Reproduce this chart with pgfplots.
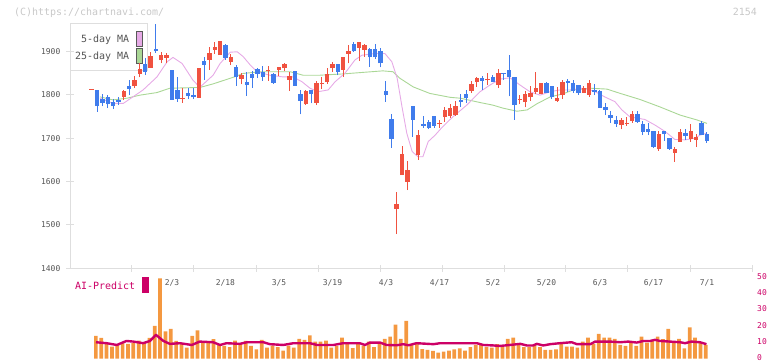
\documentclass[border=0pt]{standalone}
\usepackage{fontspec}
\setmainfont{DejaVu Sans Mono}
\usepackage{pgfplots}
\usepackage{pgfplotstable}
\pgfplotsset{compat=1.18}
\definecolor{cup}{RGB}{240,82,64}
\definecolor{cdn}{RGB}{64,124,236}
\definecolor{ma5}{RGB}{230,170,230}
\definecolor{ma25}{RGB}{170,215,150}
\definecolor{vol}{RGB}{244,152,64}
\definecolor{aip}{RGB}{204,0,102}
\definecolor{axg}{RGB}{222,222,222}
\definecolor{tkg}{RGB}{85,85,85}
\definecolor{wm}{RGB}{200,200,200}

% up (red) candles: index open high low close
\pgfplotstableread{
i o h l c
0 1812 1813 1812 1813
6 1795 1812 1788 1809
8 1820 1843 1815 1834
9 1848 1874 1840 1860
11 1862 1898 1862 1889
13 1880 1899 1872 1891
14 1885 1897 1872 1891
17 1791 1815 1782 1792
20 1793 1861 1793 1861
22 1881 1911 1858 1897
23 1904 1922 1895 1911
24 1891 1924 1891 1924
26 1876 1895 1868 1886
28 1836 1849 1824 1845
33 1854 1866 1832 1855
35 1857 1865 1843 1863
36 1861 1874 1855 1871
37 1834 1853 1809 1843
40 1778 1811 1776 1808
42 1781 1832 1776 1826
43 1825 1841 1813 1826
44 1830 1861 1825 1848
45 1861 1876 1853 1871
47 1857 1886 1842 1886
48 1894 1914 1872 1900
50 1908 1921 1878 1921
51 1904 1917 1887 1914
57 1537 1576 1479 1548
58 1615 1682 1615 1663
59 1600 1647 1580 1627
61 1661 1719 1650 1707
65 1732 1742 1723 1733
66 1749 1772 1738 1765
67 1751 1778 1747 1769
68 1753 1786 1751 1774
71 1809 1832 1805 1825
72 1830 1840 1818 1838
74 1833 1849 1822 1834
76 1822 1859 1815 1851
80 1789 1799 1778 1790
81 1784 1809 1771 1801
82 1794 1820 1786 1805
83 1806 1853 1801 1816
84 1801 1827 1801 1827
87 1785 1817 1784 1793
88 1799 1834 1790 1830
92 1805 1821 1805 1815
93 1799 1834 1795 1826
99 1730 1746 1720 1742
100 1733 1748 1728 1734
101 1739 1763 1736 1755
106 1674 1717 1671 1709
109 1666 1679 1646 1674
110 1692 1721 1692 1715
112 1697 1732 1692 1717
113 1696 1709 1679 1703
}\upc

% down (blue) candles
\pgfplotstableread{
i o h l c
1 1811 1812 1761 1774
2 1791 1801 1773 1782
3 1795 1799 1769 1778
4 1784 1790 1767 1774
5 1787 1795 1776 1784
7 1820 1834 1799 1813
10 1871 1884 1845 1853
12 1906 1963 1897 1900
15 1857 1857 1789 1789
16 1811 1842 1784 1790
18 1803 1815 1790 1798
19 1799 1816 1790 1794
21 1878 1888 1834 1868
25 1914 1917 1881 1885
27 1864 1868 1821 1840
29 1829 1853 1798 1823
30 1848 1855 1816 1839
31 1859 1862 1838 1848
32 1853 1866 1832 1841
34 1848 1849 1825 1828
38 1855 1855 1821 1821
39 1802 1811 1755 1786
41 1811 1812 1780 1802
46 1871 1871 1845 1853
49 1917 1921 1898 1900
52 1906 1907 1864 1886
53 1906 1917 1882 1886
54 1901 1907 1863 1872
55 1809 1832 1784 1799
56 1744 1756 1678 1698
60 1774 1774 1703 1742
62 1733 1751 1723 1728
63 1738 1742 1721 1723
64 1751 1751 1723 1728
69 1789 1802 1772 1784
70 1801 1811 1782 1793
73 1839 1843 1811 1832
75 1840 1845 1830 1830
77 1850 1851 1834 1848
78 1857 1891 1796 1841
79 1840 1840 1742 1776
85 1826 1830 1804 1804
86 1820 1820 1790 1795
89 1832 1836 1807 1827
90 1826 1834 1805 1809
91 1822 1822 1800 1803
94 1812 1824 1799 1807
95 1808 1811 1770 1770
96 1772 1781 1753 1765
97 1753 1763 1736 1747
98 1742 1751 1726 1732
102 1755 1763 1736 1738
103 1732 1739 1707 1715
104 1721 1734 1707 1715
105 1716 1716 1677 1679
107 1717 1717 1694 1709
108 1700 1700 1673 1675
111 1712 1721 1696 1705
114 1735 1739 1707 1707
115 1709 1715 1689 1694
}\dnc

% 25-day moving average
\pgfplotstableread{
i v
1.55 1795
4.0 1788
6.6 1792
9.0 1799
12.2 1805
14.6 1815
17.8 1816
20.3 1817
22.7 1825
26.4 1840
28.3 1849
31.5 1853
37.1 1853
39.5 1845
42.7 1845
47.0 1848
50.2 1851
54.4 1855
56.3 1853
57.6 1838
60.1 1818
63.2 1803
67.0 1794
68.9 1792
72.6 1782
75.0 1776
76.9 1769
79.5 1762
81.4 1765
83.2 1779
85.7 1795
88.1 1802
90.0 1811
93.2 1815
96.3 1813
98.8 1803
102.5 1789
106.2 1772
110.0 1753
113.1 1742
115.0 1734
}\maA

% 5-day moving average
\pgfplotstableread{
i v
1.55 1792
4.0 1780
5.9 1780
7.7 1795
9.6 1811
12.2 1841
14.1 1876
15.2 1886
16.9 1872
18.9 1834
20.2 1817
22.7 1845
24.0 1872
25.9 1898
27.2 1899
28.3 1888
29.6 1869
30.9 1853
33.3 1845
35.8 1841
37.6 1841
39.3 1830
40.8 1815
42.3 1807
44.2 1811
45.5 1830
47.3 1849
49.2 1880
50.5 1891
52.9 1895
54.8 1895
56.1 1876
57.1 1838
58.0 1772
58.9 1711
59.9 1669
61.0 1657
61.9 1657
62.9 1692
64.2 1707
65.5 1725
67.5 1749
70.1 1776
72.6 1807
74.4 1822
76.3 1836
78.2 1839
80.1 1822
81.9 1807
83.8 1799
85.7 1807
87.5 1811
89.4 1811
91.8 1815
93.1 1811
94.1 1807
95.9 1795
97.8 1784
99.1 1765
100.6 1749
103.4 1743
105.3 1730
107.2 1715
109.0 1697
110.9 1696
112.8 1700
113.7 1707
114.9 1711
}\maB

% bottom panel bars
\pgfplotstableread{
i v
1 14
2 12.8
3 9.5
4 7.4
5 8.4
6 9.5
7 9.1
8 9.5
9 11.1
10 9.5
11 12.8
12 20.3
13 49.7
14 16.8
15 18.4
16 10.9
17 9.5
18 6.8
19 14
20 17.4
21 10.5
22 9.5
23 12
24 8.4
25 7.8
26 7
27 11.1
28 9.5
29 10.9
30 7.8
31 5.7
32 11.6
33 6.8
34 8
35 7
36 4.9
37 8
38 6.8
39 12.2
40 11.6
41 14.3
42 10.5
43 10.5
44 11.1
45 6.8
46 7.8
47 13
48 9.5
49 6.4
50 10.1
51 8
52 10.5
53 7
54 9.9
55 12.2
56 13.6
57 21
58 12.2
59 23.4
60 8.9
61 8.9
62 5.9
63 5.3
64 4.7
65 3.6
66 4.3
67 4.9
68 5.7
69 6.3
70 4.9
71 7.0
72 8.4
73 8.4
74 7.0
75 6.8
76 8.9
77 7.0
78 12.2
79 13.0
80 8.4
81 7.0
82 7.0
83 8.4
84 7.0
85 5.3
86 5.3
87 5.7
88 9.1
89 7.4
90 7.4
91 6.8
92 10.5
93 13.0
94 9.1
95 15.3
96 13.0
97 13.0
98 12.2
99 8.4
100 7.8
101 10.5
102 7.8
103 13.6
104 9.9
105 11.1
106 13.6
107 12.0
108 18.4
109 9.9
110 12.2
111 6.3
112 19.3
113 13.0
114 9.5
115 8.4
}\volt

% AI-Predict line
\pgfplotstableread{
i v
0.8 10.1
2.8 9.5
4.7 8.4
6.5 10.9
7.8 10.5
9.6 9.5
10.9 10.9
12.0 14.7
13.4 10.9
14.6 9.1
16.5 9.5
18.7 8.4
20.2 10.5
22.7 10.1
24.0 8.4
25.2 9.5
27.7 9.1
29.0 10.1
32.1 10.1
33.3 8.9
35.8 8.4
37.7 9.5
40.8 9.5
42.1 8.4
45.2 8.4
47.0 9.5
50.1 9.5
51.1 8.4
52.0 9.9
53.9 9.9
55.1 8.4
57.0 8.2
58.2 8.9
59.2 8.2
60.7 9.5
63.9 8.9
65.1 9.5
72.0 9.5
73.2 8.4
75.1 8.1
76.3 7.8
78.2 8.4
80.1 9.1
81.3 8.1
82.5 8.1
83.2 9.1
84.4 8.1
85.7 8.9
87.5 9.5
89.7 10.1
90.7 8.9
93.2 8.9
94.1 10.5
96.9 10.5
98.8 10.1
100.3 10.5
101.9 9.9
103.1 10.9
104.4 10.9
105.3 11.6
106.2 10.9
108.1 10.5
110.0 10.1
110.9 9.5
112.1 10.5
113.7 10.1
114.9 8.9
}\ait

\begin{document}
\begin{tikzpicture}
\useasboundingbox (0,0) rectangle (772bp,361bp);
% legend box of the price panel
\draw[axg, line width=1bp, fill=white] (70bp,290bp) rectangle (147bp,337bp);
\node[anchor=east, text=tkg, font=\fontsize{10}{12}\selectfont, inner sep=0pt] at (129.3bp,321bp) {5-day MA};
\node[anchor=east, text=tkg, font=\fontsize{10}{12}\selectfont, inner sep=0pt] at (129.3bp,304bp) {25-day MA};
\draw[fill=ma5, draw=black!65, line width=0.8bp] (136.5bp,314.5bp) rectangle (142.5bp,330bp);
\draw[fill=ma25, draw=black!65, line width=0.8bp] (136.5bp,297.7bp) rectangle (142.5bp,312.7bp);
\node[anchor=west, text=wm, font=\fontsize{10}{12}\selectfont, inner sep=0pt] at (14bp,348.5bp) {(C)https://chartnavi.com/};
\node[anchor=east, text=wm, font=\fontsize{10}{12}\selectfont, inner sep=0pt] at (757bp,349bp) {2154};

\begin{axis}[
  at={(70bp,92.7bp)}, anchor=south west, scale only axis,
  width=682bp, height=244.3bp,
  xmin=-4.056, xmax=123.42, ymin=1400, ymax=1963,
  axis lines*=left,
  axis line style={draw=axg, line width=1bp},
  tick align=center, major tick length=7bp,
  tick style={draw=axg, line width=1bp},
  xtick={7.53,19.12,30.71,42.30,53.89,65.48,77.07,88.65,100.24,111.83,123.42},
  xticklabels={},
  extra x ticks={15,25,35,45,55,65,75,85,95,105,115},
  extra x tick labels={2/3,2/18,3/5,3/19,4/3,4/17,5/2,5/20,6/3,6/17,7/1},
  extra x tick style={major tick length=0pt, xticklabel style={anchor=center, yshift=-14.5bp}},
  ytick={1400,1500,1600,1700,1800,1900},
  ticklabel style={font=\fontsize{8}{9}\selectfont, text=tkg},
  yticklabel style={anchor=east, inner sep=0pt, xshift=-6bp},
  /pgf/number format/assume math mode=true,
  /pgf/number format/1000 sep={},
]
\addplot[ma25, line width=0.9bp, forget plot] table[x=i,y=v] {\maA};
\addplot[ma5, line width=0.9bp, forget plot] table[x=i,y=v] {\maB};
% wicks
\addplot[draw=none, mark=none, forget plot,
  error bars/.cd, y dir=plus, y explicit, error mark=none,
  error bar style={draw=cup, line width=1bp}]
  table[x=i, y=l, y error plus expr=\thisrow{h}-\thisrow{l}] {\upc};
\addplot[draw=none, mark=none, forget plot,
  error bars/.cd, y dir=plus, y explicit, error mark=none,
  error bar style={draw=cdn, line width=1bp}]
  table[x=i, y=l, y error plus expr=\thisrow{h}-\thisrow{l}] {\dnc};
% bodies
\addplot[draw=none, mark=none, forget plot,
  error bars/.cd, y dir=plus, y explicit, error mark=none,
  error bar style={draw=cup, line width=4.4bp}]
  table[x=i, y=o, y error plus expr={max(\thisrow{c}-\thisrow{o},2.3)}] {\upc};
\addplot[draw=none, mark=none, forget plot,
  error bars/.cd, y dir=plus, y explicit, error mark=none,
  error bar style={draw=cdn, line width=4.4bp}]
  table[x=i, y=c, y error plus expr={max(\thisrow{o}-\thisrow{c},2.3)}] {\dnc};
\end{axis}

\begin{axis}[
  at={(70bp,2.5bp)}, anchor=south west, scale only axis,
  width=682bp, height=80.5bp,
  xmin=-4.056, xmax=123.42, ymin=0, ymax=50,
  axis x line=none, axis y line*=right,
  axis line style={draw=none},
  ytick={0,10,20,30,40,50}, major tick length=0pt,
  yticklabel style={font=\fontsize{8}{9}\selectfont, text=aip, anchor=west, inner sep=0pt, xshift=5bp, yshift=1.2bp},
  /pgf/number format/assume math mode=true,
  clip=false,
]
\addplot[ybar, bar width=3.7bp, bar shift=-1.2bp, fill=vol, draw=none, forget plot] table[x=i,y=v] {\volt};
\addplot[aip, line width=2.4bp, line join=round, forget plot] table[x=i,y=v] {\ait};
\end{axis}

\node[anchor=west, text=aip, font=\fontsize{10}{12}\selectfont, inner sep=0pt] at (75bp,75bp) {AI-Predict};
\fill[aip] (142.3bp,68.3bp) rectangle (148.7bp,83.7bp);
\end{tikzpicture}
\end{document}
